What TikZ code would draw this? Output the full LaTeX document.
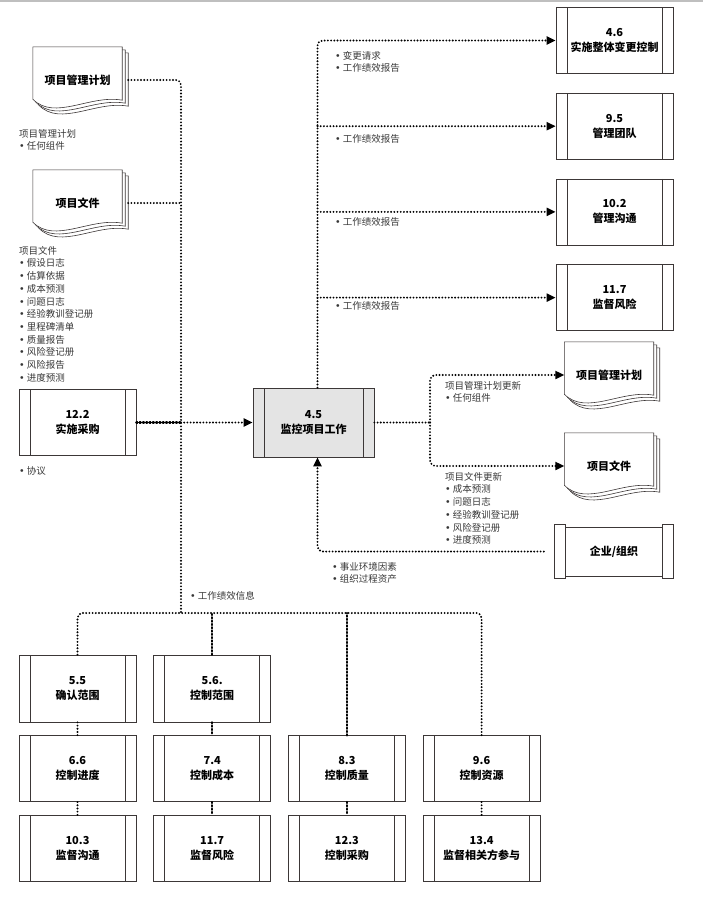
\documentclass[tikz,border=0pt]{standalone}
\usepackage{fontspec}
\setmainfont{Noto Sans CJK SC}
\newfontfamily\symfont{DejaVu Sans}
\usepackage{xcolor}
\usepackage{tikz}
\usetikzlibrary{positioning, arrows.meta, calc}
\definecolor{procfill}{RGB}{228,228,228}
\definecolor{procline}{RGB}{60,55,55}
\definecolor{labelgray}{RGB}{55,55,55}
\pgfdeclarelayer{background}
\pgfsetlayers{background,main}
\newcommand{\bul}{{\symfont •}\hspace{2pt}}

% stacked pages with wavy bottom, drawn behind a doc node
\newcommand{\docpages}[1]{%
  \begin{pgfonlayer}{background}
  \foreach \off in {6,3,0} {
    \draw[fill=white, draw=procline, line width=0.6pt]
      ([shift={(\off,\off)}]#1.north west) -- ([shift={(\off,\off)}]#1.north east)
      -- ([shift={(\off,\off-13)}]#1.south east)
      .. controls ([shift={(\off-32,\off-19)}]#1.south east) and ([shift={(\off+22,\off+8)}]#1.south west)
      .. ([shift={(\off,\off-14)}]#1.south west) -- cycle;
  }
  \end{pgfonlayer}
}

\begin{document}
\begin{tikzpicture}[
        x=1pt, y=-1pt,
        node distance=13pt and 17pt,
        proc/.style={draw=procline, line width=0.7pt, fill=white, minimum width=117pt, minimum height=66pt,
            inner sep=0pt, align=center, font=\bfseries\fontsize{11}{15}\selectfont,
            path picture={\draw[procline, line width=0.7pt]
                ([xshift=11pt]path picture bounding box.north west) -- ([xshift=11pt]path picture bounding box.south west)
                ([xshift=-11pt]path picture bounding box.north east) -- ([xshift=-11pt]path picture bounding box.south east);}},
        docbox/.style={minimum width=89pt, minimum height=66pt, inner sep=0pt, align=center, font=\bfseries\fontsize{11}{15}\selectfont},
        lbl/.style={anchor=north west, inner sep=0pt, align=left, text=labelgray, font=\fontsize{9.5}{12.7}\selectfont},
        dotline/.style={line width=2.1pt, line cap=round, dash pattern=on 0pt off 3.2pt},
        thickdot/.style={line width=2.5pt, line cap=round, dash pattern=on 1pt off 2.3pt},
        dotarrow/.style={dotline, -{Triangle[length=9pt, width=8pt]}}
    ]
    \useasboundingbox (0,0) rectangle (703,910);
    \draw[black!25, line width=1.5pt] (0,1) -- (703,1);

    % inputs
    \node[docbox] (pmpIn) at (77.5,80) {项目管理计划};
    \docpages{pmpIn}
    \node[docbox] (docIn) at (77.5,203) {项目文件};
    \docpages{docIn}
    \node[proc] (p122) at (77.5,422.5) {12.2\\实施采购};

    \node[lbl] at (19,129) {项目管理计划\\\bul 任何组件};
    \node[lbl] at (19,246) {项目文件\\\bul 假设日志\\\bul 估算依据\\\bul 成本预测\\\bul 问题日志\\\bul 经验教训登记册\\\bul 里程碑清单\\\bul 质量报告\\\bul 风险登记册\\\bul 风险报告\\\bul 进度预测};
    \node[lbl] at (19,466) {\bul 协议};

    % process
    \node[proc, fill=procfill, minimum width=121pt, minimum height=69pt] (mc) at (313.5,422.5) {4.5\\监控项目工作};

    % outputs to other processes
    \node[proc] (r46) at (614.5,40.5) {4.6\\实施整体变更控制};
    \node[proc] (r95) [below=19pt of r46] {9.5\\管理团队};
    \node[proc] (r102) [below=19pt of r95] {10.2\\管理沟通};
    \node[proc] (r117) [below=19pt of r102] {11.7\\监督风险};

    \node[lbl] at (335,51) {\bul 变更请求\\\bul 工作绩效报告};
    \node[lbl] at (335,134) {\bul 工作绩效报告};
    \node[lbl] at (335,217) {\bul 工作绩效报告};
    \node[lbl] at (335,301) {\bul 工作绩效报告};

    % updates
    \node[docbox] (pmpOut) at (609,375) {项目管理计划};
    \docpages{pmpOut}
    \node[docbox] (docOut) at (609,466) {项目文件};
    \docpages{docOut}
    \node[lbl] at (445,381) {项目管理计划更新\\\bul 任何组件};
    \node[lbl] at (445,472) {项目文件更新\\\bul 成本预测\\\bul 问题日志\\\bul 经验教训登记册\\\bul 风险登记册\\\bul 进度预测};

    % enterprise
    \node[minimum width=118pt, minimum height=53pt, inner sep=0pt, font=\bfseries\fontsize{11}{15}\selectfont] (org) at (614,551.5) {企业/组织};
    \draw[procline, line width=0.7pt] ([xshift=11pt, yshift=-3pt]org.north west) rectangle ([xshift=-11pt, yshift=2pt]org.south east);
    \draw[procline, line width=0.7pt] (org.north west) rectangle ([xshift=11pt]org.south west);
    \draw[procline, line width=0.7pt] (org.north east) rectangle ([xshift=-11pt]org.south east);
    \node[lbl] at (332,562) {\bul 事业环境因素\\\bul 组织过程资产};

    % work performance data sources
    \node[proc, minimum height=67pt] (b55) at (77.5,688.5) {5.5\\确认范围};
    \node[proc, minimum height=67pt] (b56) [right=of b55] {5.6.\\控制范围};
    \node[proc] (b66) [below=of b55] {6.6\\控制进度};
    \node[proc] (b74) [right=of b66] {7.4\\控制成本};
    \node[proc] (b83) [right=of b74] {8.3\\控制质量};
    \node[proc] (b96) [right=of b83] {9.6\\控制资源};
    \node[proc] (b103) [below=of b66] {10.3\\监督沟通};
    \node[proc] (b117) [right=of b103] {11.7\\监督风险};
    \node[proc] (b123) [right=of b117] {12.3\\控制采购};
    \node[proc] (b134) [right=of b123] {13.4\\监督相关方参与};
    \node[lbl] at (190,591) {\bul 工作绩效信息};

    % connectors
    \coordinate (jin) at (181,422.5);
    \coordinate (jbus) at (181,613);
    \draw[dotline, rounded corners=5pt] ([xshift=6pt]pmpIn.east) -| (jbus);
    \draw[dotline] ([xshift=6pt]docIn.east) -- (docIn.east -| jin);
    \draw[thickdot] (p122.east) -- (jin);
    \draw[dotarrow] (jin) -- (mc.west);

    \draw[dotline, rounded corners=5pt] (b55.north) |- (jbus) -| (b96.north);
    \draw[thickdot] (b56.north) -- (b56.north |- jbus);
    \draw[thickdot] (b83.north) -- (b83.north |- jbus);
    \draw[dotline] (b55) -- (b66);
    \draw[dotline] (b66) -- (b103);
    \draw[thickdot] (b56) -- (b74);
    \draw[thickdot] (b74) -- (b117);
    \draw[thickdot] (b83) -- (b123);
    \draw[dotline] (b96) -- (b134);

    \coordinate (tup) at ([xshift=4pt]mc.north);
    \draw[dotarrow, rounded corners=5pt] (tup) |- (r46.west);
    \foreach \n in {r95,r102,r117}
        \draw[dotarrow] (\n.west -| tup) -- (\n.west);

    \coordinate (split) at (430,422.5);
    \draw[dotline] (mc.east) -- (split);
    \draw[dotarrow, rounded corners=6pt] (split) |- (pmpOut.west);
    \draw[dotarrow, rounded corners=6pt] (split) |- (docOut.west);

    \coordinate (tdn) at ([xshift=4pt]mc.south);
    \draw[dotarrow, rounded corners=5pt] ([xshift=-11pt]org.west) -| (tdn);

    \end{tikzpicture}
\end{document}
